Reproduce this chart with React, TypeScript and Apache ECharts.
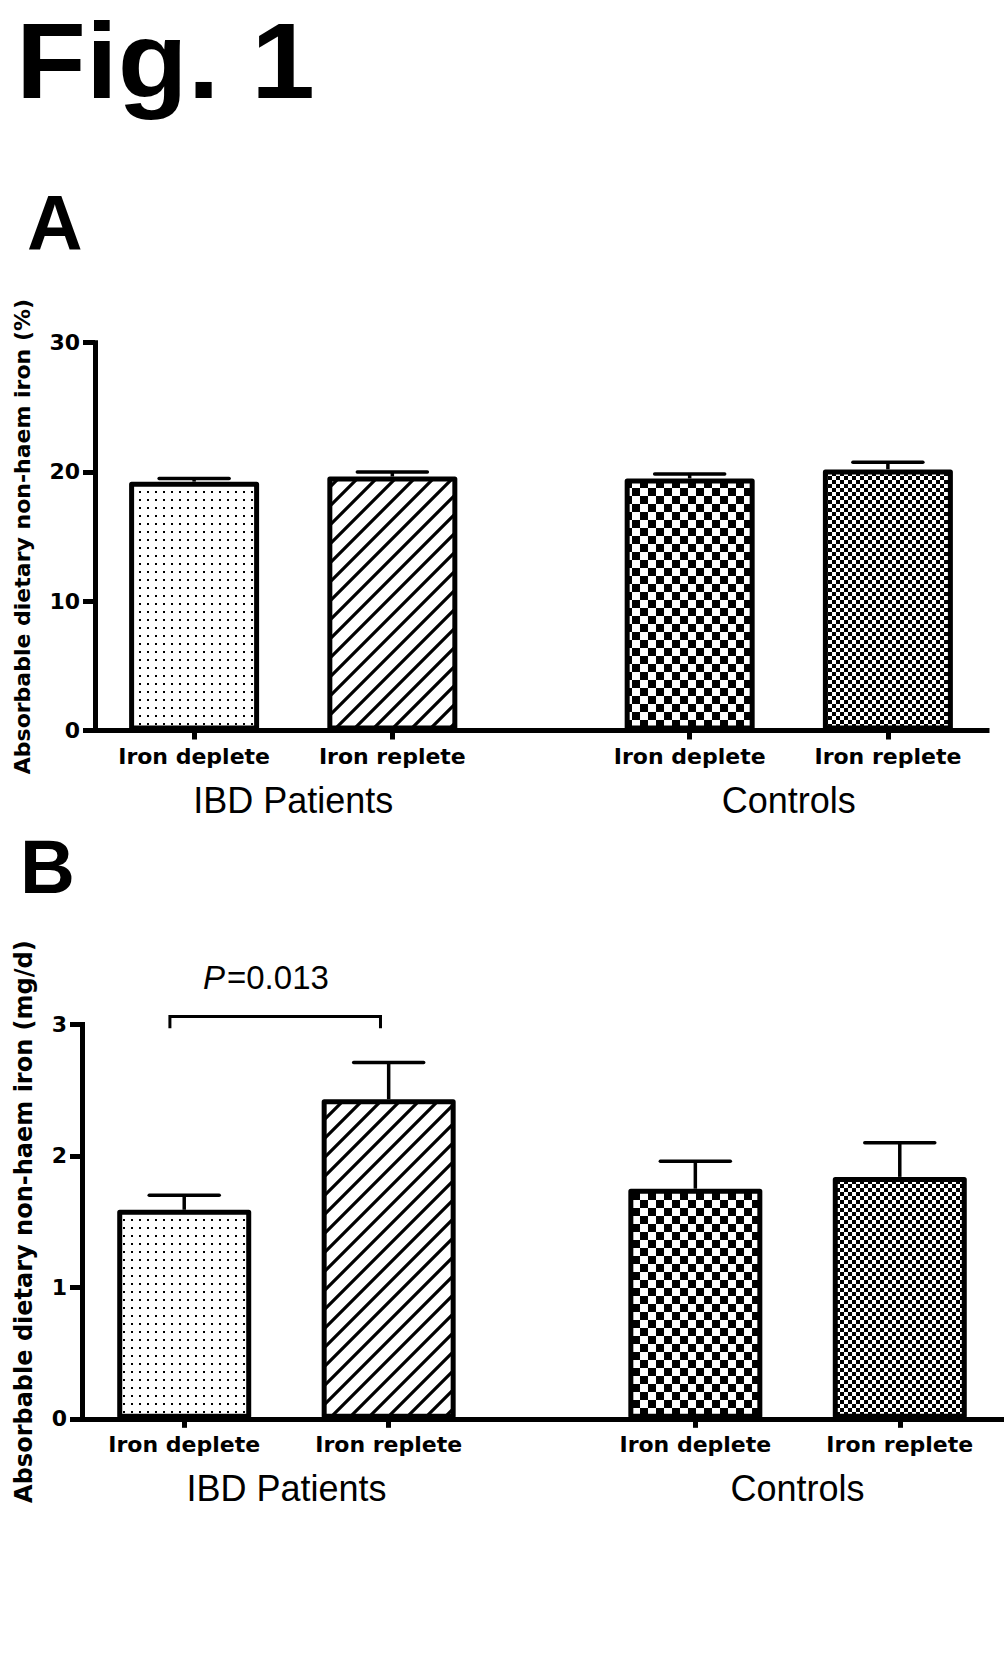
import React, { useEffect, useRef } from 'react';
import * as echarts from 'echarts';

// ---------- data ----------
const categories = ['Iron deplete', 'Iron replete', 'Iron deplete', 'Iron replete'];
const barPositions = [1, 2, 3.5, 4.5];
const groupLabels = ['IBD Patients', 'Controls'];
const groupPositions = [1.5, 4.0];

// Panel A: absorbable dietary non-haem iron (%)
const panelAMeans = [19.25, 19.65, 19.5, 20.2];
const panelAErrors = [0.25, 0.35, 0.35, 0.55];
const panelAAxis = [0, 30, 10]; // min, max, interval

// Panel B: absorbable dietary non-haem iron (mg/d)
const panelBMeans = [1.59, 2.43, 1.75, 1.84];
const panelBErrors = [0.11, 0.28, 0.21, 0.26];
const panelBAxis = [0, 3, 1];

// significance bracket (panel B): x from/to, y end/top
const bracketX = [0.93, 1.96];
const bracketY = [2.97, 3.06];
const pValueText = '=0.013';

const titleA = 'Absorbable dietary non-haem iron (%)';
const titleB = 'Absorbable dietary non-haem iron (mg/d)';

// ---------- patterns ----------
function svgPattern(w: number, h: number, body: string) {
  const svg = `<svg xmlns='http://www.w3.org/2000/svg' width='${w}' height='${h}'><rect width='${w}' height='${h}' fill='white'/>${body}</svg>`;
  return {
    image: 'data:image/svg+xml;charset=utf-8,' + encodeURIComponent(svg),
    repeat: 'repeat',
    imageWidth: w,
    imageHeight: h,
  };
}

const dotsPattern = svgPattern(8, 8, `<rect x='3' y='3' width='2' height='2' fill='black'/>`);
const hatchPattern = svgPattern(
  19,
  19,
  `<path d='M-2,21 L21,-2 M-2,2 L2,-2 M17,21 L21,17' stroke='black' stroke-width='3.2'/>`
);
const checkerPattern = svgPattern(
  16,
  16,
  `<rect x='0' y='0' width='8' height='8' fill='black'/><rect x='8' y='8' width='8' height='8' fill='black'/>`
);
const fineCheckerPattern = svgPattern(
  8,
  8,
  `<rect x='0' y='0' width='4' height='4' fill='black'/><rect x='4' y='4' width='4' height='4' fill='black'/>`
);
const barPatterns = [dotsPattern, hatchPattern, checkerPattern, fineCheckerPattern];

// ---------- helpers ----------
const boldFont = { fontFamily: 'DejaVu Sans', fontWeight: 'bold' as const, color: '#000' };

function errorRender(params: any, api: any) {
  const x = api.value(0);
  const m = api.value(1);
  const u = api.value(2);
  const p0 = api.coord([x, m]);
  const p1 = api.coord([x, u]);
  return {
    type: 'group',
    children: [
      {
        type: 'line',
        shape: { x1: p0[0], y1: p0[1], x2: p1[0], y2: p1[1] },
        style: { stroke: '#000', lineWidth: 3.5 },
      },
      {
        type: 'line',
        shape: { x1: p1[0] - 35, y1: p1[1], x2: p1[0] + 35, y2: p1[1] },
        style: { stroke: '#000', lineWidth: 3.5, lineCap: 'round' },
      },
    ],
  };
}

function bracketRender(params: any, api: any) {
  const x1 = api.value(0);
  const x2 = api.value(1);
  const yEnd = api.value(2);
  const yTop = api.value(3);
  const a = api.coord([x1, yEnd]);
  const b = api.coord([x1, yTop]);
  const c = api.coord([x2, yTop]);
  const d = api.coord([x2, yEnd]);
  return {
    type: 'polyline',
    shape: { points: [a, b, c, d] },
    style: { stroke: '#000', lineWidth: 3, fill: 'none' },
  };
}

function makeCatAxis(gridIndex: number) {
  return {
    type: 'value',
    gridIndex,
    min: 0.5,
    max: 5,
    axisLine: { show: true, onZero: false, lineStyle: { color: '#000', width: 5, cap: 'square' } },
    axisTick: { show: true, customValues: barPositions, length: 9, lineStyle: { color: '#000', width: 5 } },
    axisLabel: {
      show: true,
      customValues: barPositions,
      margin: 15,
      fontSize: 22,
      ...boldFont,
      formatter: (v: number) => categories[barPositions.indexOf(v)] ?? '',
    },
    splitLine: { show: false },
  };
}

function makeGroupAxis(gridIndex: number) {
  return {
    type: 'value',
    gridIndex,
    min: 0.5,
    max: 5,
    position: 'bottom',
    axisLine: { show: false },
    axisTick: { show: false },
    splitLine: { show: false },
    axisLabel: {
      show: true,
      customValues: groupPositions,
      margin: 52,
      fontFamily: 'Liberation Sans',
      fontSize: 36,
      color: '#000',
      formatter: (v: number) => groupLabels[groupPositions.indexOf(v)] ?? '',
    },
  };
}

function makeYAxis(gridIndex: number, axis: number[], name: string, nameGap: number, nameSize: number) {
  return {
    type: 'value',
    gridIndex,
    min: axis[0],
    max: axis[1],
    interval: axis[2],
    name,
    nameLocation: 'middle',
    nameRotate: 90,
    nameGap,
    nameTextStyle: { ...boldFont, fontSize: nameSize },
    axisLine: { show: true, onZero: false, lineStyle: { color: '#000', width: 5, cap: 'square' } },
    axisTick: { show: true, length: 12, lineStyle: { color: '#000', width: 5 } },
    axisLabel: { margin: 15, fontSize: 22, ...boldFont },
    splitLine: { show: false },
  };
}

function barData(means: number[]) {
  return means.map((m, i) => ({
    value: [barPositions[i], m],
    itemStyle: { color: barPatterns[i], borderColor: '#000', borderWidth: 5, borderJoin: 'round' },
  }));
}

function errData(means: number[], errs: number[]) {
  return means.map((m, i) => [barPositions[i], m, m + errs[i]]);
}

export default function App() {
  const ref = useRef<HTMLDivElement>(null);

  useEffect(() => {
    if (!ref.current) return;
    const chart = echarts.init(ref.current, null, { renderer: 'svg' });
    const option: any = {
      animation: false,
      backgroundColor: '#fff',
      grid: [
        { left: 95, top: 342.7, width: 892, height: 387.8 },
        { left: 82, top: 1024.4, width: 920, height: 394.4 },
      ],
      xAxis: [makeCatAxis(0), makeGroupAxis(0), makeCatAxis(1), makeGroupAxis(1)],
      yAxis: [makeYAxis(0, panelAAxis, titleA, 62, 22), makeYAxis(1, panelBAxis, titleB, 46, 24)],
      series: [
        { type: 'bar', xAxisIndex: 0, yAxisIndex: 0, barWidth: 130, data: barData(panelAMeans), z: 2 },
        {
          type: 'custom',
          xAxisIndex: 0,
          yAxisIndex: 0,
          renderItem: errorRender,
          data: errData(panelAMeans, panelAErrors),
          z: 3,
          clip: false,
        },
        { type: 'bar', xAxisIndex: 2, yAxisIndex: 1, barWidth: 134, data: barData(panelBMeans), z: 2 },
        {
          type: 'custom',
          xAxisIndex: 2,
          yAxisIndex: 1,
          renderItem: errorRender,
          data: errData(panelBMeans, panelBErrors),
          z: 3,
          clip: false,
        },
        {
          type: 'custom',
          xAxisIndex: 2,
          yAxisIndex: 1,
          renderItem: bracketRender,
          data: [[bracketX[0], bracketX[1], bracketY[0], bracketY[1]]],
          z: 3,
          clip: false,
        },
      ],
      graphic: [
        {
          type: 'text',
          x: 16,
          y: 7,
          scaleX: 1.06,
          style: { text: 'Fig. 1', font: 'bold 108px "Liberation Sans"', fill: '#000', verticalAlign: 'top' },
        },
        {
          type: 'text',
          x: 27,
          y: 222.5,
          style: { text: 'A', font: 'bold 77px "Liberation Sans"', fill: '#000', verticalAlign: 'middle' },
        },
        {
          type: 'text',
          x: 20,
          y: 866,
          style: { text: 'B', font: 'bold 76px "Liberation Sans"', fill: '#000', verticalAlign: 'middle' },
        },
        {
          type: 'text',
          x: 203,
          y: 977.5,
          style: { text: 'P', font: 'italic 33px "Liberation Sans"', fill: '#000', verticalAlign: 'middle' },
        },
        {
          type: 'text',
          x: 227,
          y: 977.5,
          style: { text: pValueText, font: '33px "Liberation Sans"', fill: '#000', verticalAlign: 'middle' },
        },
      ],
    };
    chart.setOption(option);
    return () => chart.dispose();
  }, []);

  return (
    <div
      ref={ref}
      style={{ position: 'absolute', left: 0, top: 0, width: 1004, height: 1654, background: '#fff' }}
    />
  );
}
